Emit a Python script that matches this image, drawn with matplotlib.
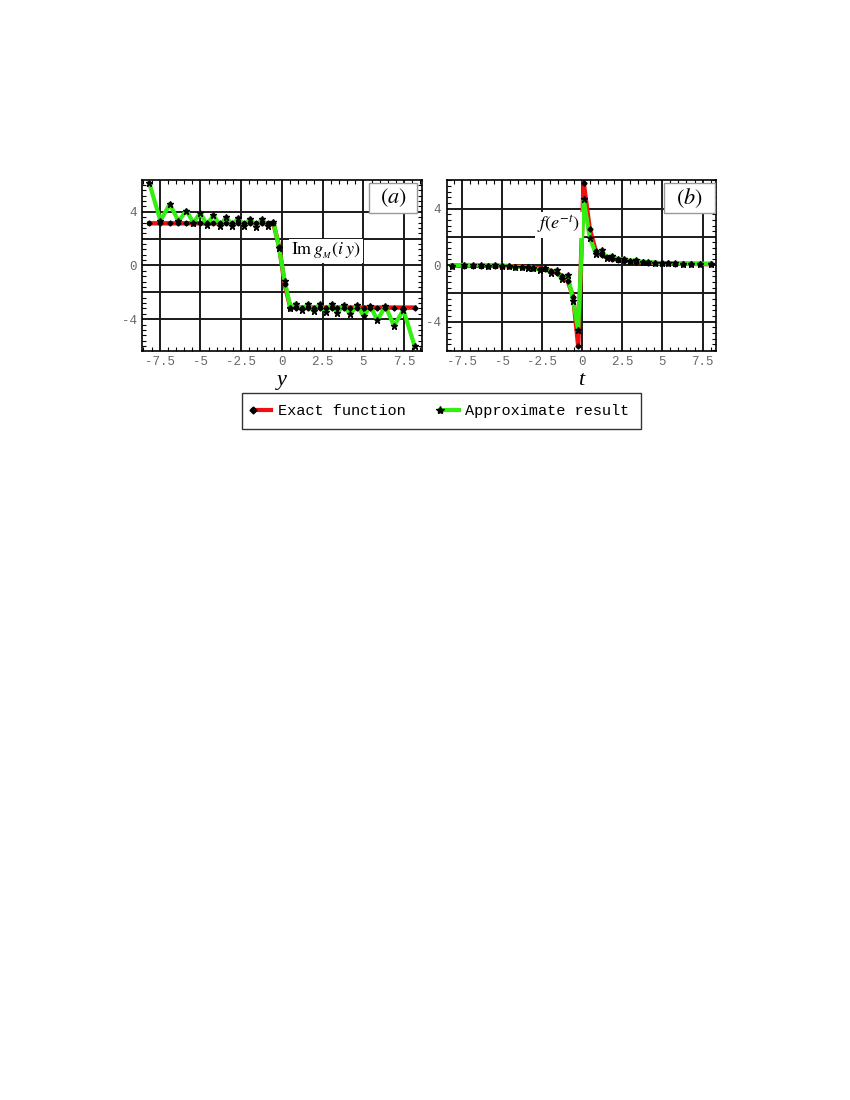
"""
Two panel comparison: exact function vs approximate result
"""

import matplotlib.pyplot as plt
from matplotlib.lines import Line2D
from matplotlib.patches import Rectangle
from matplotlib.legend_handler import HandlerLine2D
from matplotlib.ticker import FixedLocator, MultipleLocator

plt.rcParams['axes.unicode_minus'] = False
plt.rcParams['mathtext.fontset'] = 'stix'

# panel (a): Im g_M(i y)
y_pts = [-8.14, -7.46, -6.88, -6.35, -5.86, -5.43, -5.02, -4.60, -4.20, -3.79,
         -3.41, -3.05, -2.68, -2.31, -1.95, -1.58, -1.23, -0.87, -0.52, -0.17,
         0.17, 0.52, 0.87, 1.23, 1.58, 1.95, 2.31, 2.68, 3.05, 3.41,
         3.79, 4.20, 4.60, 5.02, 5.43, 5.86, 6.35, 6.88, 7.46, 8.14]
exact_a = [3.14, 3.14, 3.14, 3.14, 3.14, 3.14, 3.14, 3.14, 3.14, 3.14,
           3.14, 3.14, 3.14, 3.14, 3.14, 3.14, 3.14, 3.14, 3.14, 1.40,
           -1.40, -3.14, -3.14, -3.14, -3.14, -3.14, -3.14, -3.14, -3.14, -3.14,
           -3.14, -3.14, -3.14, -3.14, -3.14, -3.14, -3.14, -3.14, -3.14, -3.14]
approx_a = [6.14, 3.34, 4.58, 3.30, 4.09, 3.17, 3.92, 3.05, 3.74, 2.97,
            3.62, 2.97, 3.54, 2.93, 3.49, 2.90, 3.45, 2.93, 3.25, 1.30,
            -1.16, -3.14, -2.85, -3.34, -2.90, -3.39, -2.90, -3.44, -2.90, -3.51,
            -2.97, -3.64, -2.97, -3.76, -3.02, -4.09, -3.02, -4.50, -3.31, -5.99]

# panel (b): f(e^-t)
t_pts = [-8.12, -7.39, -6.85, -6.35, -5.88, -5.46, -5.00, -4.58, -4.21, -3.79,
         -3.38, -3.07, -2.65, -2.34, -1.97, -1.61, -1.30, -0.92, -0.57, -0.26,
         0.08, 0.46, 0.84, 1.20, 1.51, 1.86, 2.23, 2.59, 2.96, 3.34,
         3.76, 4.10, 4.52, 4.94, 5.35, 5.77, 6.29, 6.81, 7.33, 8.06]
exact_b = [-0.03, -0.04, -0.04, -0.05, -0.05, -0.06, -0.07, -0.08, -0.10, -0.12,
           -0.15, -0.18, -0.24, -0.30, -0.40, -0.55, -0.75, -1.10, -2.25, -5.70,
           5.84, 2.55, 1.00, 0.72, 0.55, 0.45, 0.38, 0.32, 0.27, 0.23,
           0.20, 0.17, 0.15, 0.13, 0.12, 0.11, 0.10, 0.09, 0.08, 0.07]
approx_b = [-0.03, 0.02, 0.00, 0.00, -0.03, 0.02, -0.05, -0.05, -0.15, -0.12,
            -0.20, -0.18, -0.35, -0.22, -0.57, -0.38, -0.99, -0.71, -2.53, -4.59,
            4.65, 1.95, 0.80, 1.04, 0.52, 0.64, 0.40, 0.45, 0.28, 0.35,
            0.23, 0.23, 0.16, 0.13, 0.13, 0.13, 0.10, 0.10, 0.10, 0.10]

xtick_vals = [-7.5, -5, -2.5, 0, 2.5, 5, 7.5]
xtick_text = ['-7.5', '-5', '-2.5', '0', '2.5', '5', '7.5']
ytick_vals = [-4, -2, 0, 2, 4]
ytick_text = ['-4', '', '0', '', '4']

RED = '#f01010'
GREEN = '#33ee11'
MONO = 'Liberation Mono'
SERIF = 'Liberation Serif'


class MarkerFirst(HandlerLine2D):
    # legend entry: marker at the left end, line running to the right
    def create_artists(self, legend, orig_handle, xdescent, ydescent,
                       width, height, fontsize, trans):
        yc = (height - ydescent) / 2
        line = Line2D([-xdescent, -xdescent + width], [yc, yc],
                      color=orig_handle.get_color(),
                      lw=orig_handle.get_linewidth())
        mark = Line2D([-xdescent], [yc], ls='none',
                      marker=orig_handle.get_marker(),
                      ms=orig_handle.get_markersize(), color='k')
        line.set_transform(trans)
        mark.set_transform(trans)
        return [line, mark]


def draw_panel(ax, x, exact, approx, xlim, ylim, label, box):
    ax.plot(x, exact, color=RED, lw=3.2, zorder=2)
    ax.plot(x, approx, color=GREEN, lw=3.0, zorder=3)
    ax.plot(x, exact, ls='none', marker='D', ms=2.6, color='k', zorder=4)
    ax.plot(x, approx, ls='none', marker='*', ms=4.6, color='k', zorder=5)
    ax.set_xlim(*xlim)
    ax.set_ylim(*ylim)
    ax.xaxis.set_major_locator(FixedLocator(xtick_vals))
    ax.set_xticklabels(xtick_text)
    ax.yaxis.set_major_locator(FixedLocator(ytick_vals))
    ax.set_yticklabels(ytick_text)
    ax.xaxis.set_minor_locator(MultipleLocator(0.5))
    ax.yaxis.set_minor_locator(MultipleLocator(0.4))
    ax.tick_params(which='both', direction='in', top=True, right=True)
    ax.tick_params(which='major', length=0, pad=4, labelsize=9,
                   labelcolor='#666666')
    ax.tick_params(which='minor', length=3, width=0.8, color='k')
    for lab in ax.get_xticklabels() + ax.get_yticklabels():
        lab.set_family(MONO)
    ax.grid(True, which='major', color='#1a1a1a', lw=1.4)
    ax.set_axisbelow(True)
    for sp in ax.spines.values():
        sp.set_linewidth(1.2)
    x0, y0, w, h = box
    ax.add_patch(Rectangle((x0, y0), w, h, transform=ax.transAxes,
                           fc='white', ec='#999999', lw=1, zorder=6))
    ax.text(x0 + w / 2, y0 + h / 2, label, transform=ax.transAxes,
            fontsize=16, ha='center', va='center', zorder=7)


fig = plt.figure(figsize=(8.5, 11), dpi=100)
ax1 = fig.add_axes([0.1674, 0.6812, 0.3287, 0.1552])
ax2 = fig.add_axes([0.5255, 0.6812, 0.3172, 0.1552])

draw_panel(ax1, y_pts, exact_a, approx_a, (-8.57, 8.58), (-6.35, 6.37),
           r'$(a)$', (0.811, 0.807, 0.172, 0.175))
draw_panel(ax2, t_pts, exact_b, approx_b, (-8.47, 8.36), (-6.05, 6.02),
           r'$(b)$', (0.806, 0.807, 0.189, 0.175))

ax1.text(0.55, 1.08, r'$\mathrm{Im}\,g_{_M}(i\;y)$', fontsize=13, ha='left',
         va='center', zorder=6,
         bbox=dict(boxstyle='square,pad=0.1', fc='white', ec='none'))
ax2.text(-0.14, 2.86, r'$f(e^{-t})$', fontsize=13, ha='right', va='center',
         zorder=6, bbox=dict(boxstyle='square,pad=0.1', fc='white', ec='none'))

ax1.set_xlabel('y', family=SERIF, style='italic', fontsize=16, labelpad=2)
ax2.set_xlabel('t', family=SERIF, style='italic', fontsize=16, labelpad=2)

handles = [
    Line2D([], [], color=RED, lw=3, marker='D', ms=3.5),
    Line2D([], [], color=GREEN, lw=3, marker='*', ms=6),
]
leg = fig.legend(handles, ['Exact function', 'Approximate result'],
                 loc='center', bbox_to_anchor=(0.519, 0.6264), ncol=2,
                 prop={'family': MONO, 'size': 11}, frameon=True, fancybox=False,
                 edgecolor='k', handlelength=1.2, handletextpad=0.4,
                 columnspacing=2.3, borderpad=0.75,
                 handler_map={Line2D: MarkerFirst()})
leg.get_frame().set_linewidth(1.0)

fig.savefig('out.png', dpi=100)
